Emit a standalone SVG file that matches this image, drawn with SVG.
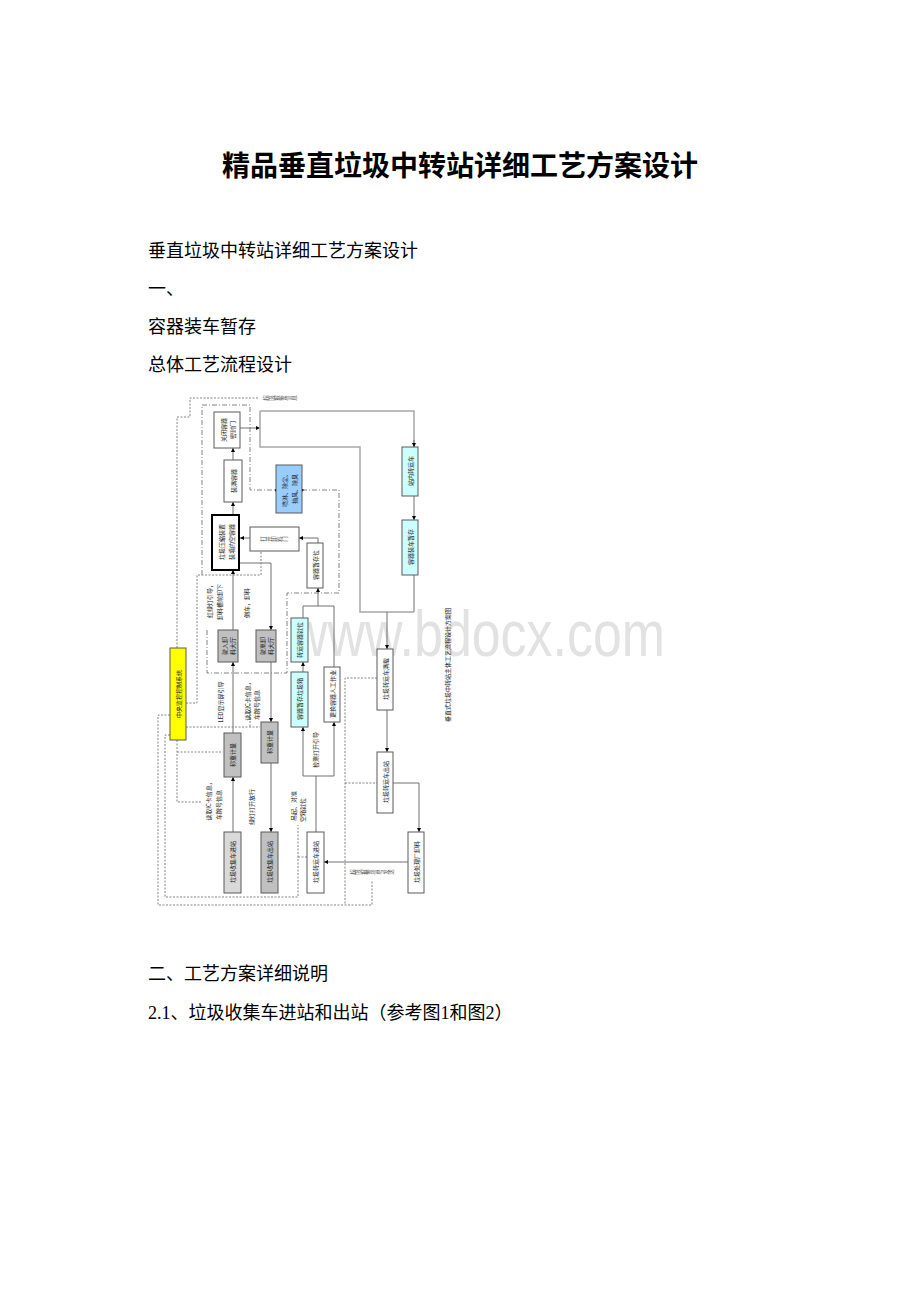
<svg xmlns="http://www.w3.org/2000/svg" width="920" height="1302" viewBox="0 0 920 1302">
<style>
.doc{font-family:"Liberation Serif","Noto Sans CJK SC",serif;fill:#000}
.t{font-family:"Noto Sans CJK SC",sans-serif;font-size:6px;fill:#222;text-anchor:middle;dominant-baseline:central}
.v{font-family:"Noto Sans CJK SC",sans-serif;font-size:5.5px;fill:#555;text-anchor:middle;dominant-baseline:central;writing-mode:vertical-rl}
.bx{stroke:#5a5a5a;stroke-width:1}
.w{fill:#fff}.g1{fill:#c0c0c0}.g2{fill:#d9d9d9}.cy{fill:#ccffff}.bl{fill:#99ccff}.ye{fill:#ffff00}
.ln{fill:none;stroke:#707070;stroke-width:1}
.big{fill:none;stroke:#a8a8a8;stroke-width:1.5}
.dt{fill:none;stroke:#777;stroke-width:0.9;stroke-dasharray:2 1.5}
.dd{fill:none;stroke:#777;stroke-width:0.9;stroke-dasharray:5 2 1 2}
</style>
<defs>
<marker id="a" viewBox="0 0 6 6" refX="6" refY="3" markerWidth="4" markerHeight="4" orient="auto" markerUnits="userSpaceOnUse"><path d="M0,0L6,3L0,6z" fill="#000"/></marker>
<marker id="d" viewBox="0 0 4 4" refX="2" refY="2" markerWidth="3" markerHeight="3" markerUnits="userSpaceOnUse"><circle cx="2" cy="2" r="2" fill="#000"/></marker>
</defs>
<rect width="920" height="1302" fill="#fff"/>
<text x="460" y="176" class="doc" font-size="28" font-weight="bold" text-anchor="middle">精品垂直垃圾中转站详细工艺方案设计</text>
<text x="148" y="257" class="doc" font-size="18">垂直垃圾中转站详细工艺方案设计</text>
<text x="148" y="295" class="doc" font-size="18">一、</text>
<text x="148" y="333" class="doc" font-size="18">容器装车暂存</text>
<text x="148" y="371" class="doc" font-size="18">总体工艺流程设计</text>
<text x="148" y="980" class="doc" font-size="18">二、工艺方案详细说明</text>
<text x="148" y="1019" class="doc" font-size="18">2.1、垃圾收集车进站和出站（参考图1和图2）</text>
<text x="290" y="656" font-family="Liberation Sans,sans-serif" font-size="64" fill="#e2e2e2" textLength="375" lengthAdjust="spacingAndGlyphs">www.bdocx.com</text>
<g id="connectors">
<path class="ln" d="M233,832V777" marker-end="url(#a)"/>
<path class="ln" d="M233,733V662" marker-end="url(#a)"/>
<path class="ln" d="M233,630V570" marker-end="url(#a)"/>
<path class="ln" d="M233,515V502" marker-end="url(#a)"/>
<path class="ln" d="M233,460V448" marker-end="url(#a)"/>
<path class="ln" d="M240,428H260" marker-end="url(#a)"/>
<path class="big" d="M260,411H414V447"/>
<path class="ln" d="M414,440V447" marker-end="url(#a)"/>
<path class="big" d="M260,411V447H360V612H414"/>
<path class="ln" d="M414,496V520" marker-end="url(#a)"/>
<path class="ln" d="M414,575V612"/>
<path class="ln" d="M387,612V649" marker-end="url(#a)"/>
<path class="ln" d="M387,710V752" marker-end="url(#a)"/>
<path class="ln" d="M393,783H419V832" marker-end="url(#a)"/>
<path class="ln" d="M408,862H324" marker-end="url(#a)"/>
<path class="ln" d="M316,832V776H303V727" marker-end="url(#a)"/>
<path class="ln" d="M316,776H334V722" marker-end="url(#a)"/>
<path class="ln" d="M303,672V662" marker-end="url(#a)"/>
<path class="ln" d="M303,618V606H334V667"/>
<path class="ln" d="M318,606V588" marker-end="url(#a)"/>
<path class="ln" d="M318,543V538H299" marker-end="url(#a)"/>
<path class="ln" d="M250,538H240" marker-end="url(#a)"/>
<path class="ln" d="M239,563H271V630" marker-end="url(#a)"/>
<path class="ln" d="M271,662V722" marker-end="url(#a)"/>
<path class="ln" d="M271,763V832" marker-end="url(#a)"/>
<path class="dt" d="M258,398H190V417H177V648"/>
<path class="dt" d="M177,740V802H202"/>
<path class="dt" d="M177,752H223"/>
<path class="dt" d="M186,703H197V575H261V551"/>
<path class="dt" d="M186,727H260M250,700V727"/>
<path class="dt" d="M170,715H158V905H372V880"/>
<path class="dt" d="M170,735H165V897H298V825M298,857H307"/>
<path class="dt" d="M377,678H345V905M345,783H377"/>
<path class="dd" d="M202,575V405H250V490H276" marker-end="url(#d)"/>
<path class="dd" d="M302,490H339V593H287V673H207V628" marker-start="url(#d)"/>
</g>
<g id="n-close"><rect class="bx w" x="214" y="412" width="26" height="36"/><text class="t" transform="translate(223,430) rotate(-90)">关闭容器</text><text class="t" transform="translate(232,430) rotate(-90)">密封门</text></g>
<g id="n-full"><rect class="bx w" x="224" y="460" width="18" height="42"/><text class="t" transform="translate(233,481) rotate(-90)">装满容器</text></g>
<g id="n-press"><rect x="212" y="515" width="27" height="55" fill="#fff" stroke="#000" stroke-width="2"/><text class="t" transform="translate(221,542) rotate(-90)">垃圾压缩装置</text><text class="t" transform="translate(231,542) rotate(-90)">装填的空容器</text></g>
<g id="n-open"><rect class="bx w" x="250" y="527" width="49" height="24"/><text class="v" transform="translate(274,539) rotate(-90)">打开卸料门</text></g>
<g id="n-blue"><rect class="bx bl" x="276" y="465" width="26" height="48"/><text class="t" transform="translate(284,489) rotate(-90)">喷淋、除尘、</text><text class="t" transform="translate(294,489) rotate(-90)">抽风、除臭</text></g>
<g id="n-store"><rect class="bx w" x="307" y="543" width="16" height="45"/><text class="t" transform="translate(315,565) rotate(-90)">容器暂存位</text></g>
<g id="n-cy1"><rect class="bx cy" x="291" y="618" width="17" height="44"/><text class="t" transform="translate(299.5,640) rotate(-90)">转运容器就位</text></g>
<g id="n-cy2"><rect class="bx cy" x="291" y="672" width="17" height="55"/><text class="t" transform="translate(299.5,699) rotate(-90)">容器暂存垃圾箱</text></g>
<g id="n-manual"><rect class="bx w" x="324" y="667" width="16" height="55"/><text class="t" transform="translate(332,694) rotate(-90)">更换容器人工作业</text></g>
<g id="n-tin"><rect class="bx w" x="307" y="832" width="17" height="61"/><text class="t" transform="translate(315.5,862) rotate(-90)">垃圾转运车进站</text></g>
<g id="n-plant"><rect class="bx w" x="408" y="832" width="16" height="61"/><text class="t" transform="translate(416,862) rotate(-90)">垃圾处理厂卸料</text></g>
<g id="n-tfull"><rect class="bx w" x="377" y="649" width="16" height="61"/><text class="t" transform="translate(385,679) rotate(-90)">垃圾转运车满载</text></g>
<g id="n-tout"><rect class="bx w" x="377" y="752" width="16" height="61"/><text class="t" transform="translate(385,782) rotate(-90)">垃圾转运车出站</text></g>
<g id="n-cy3"><rect class="bx cy" x="402" y="447" width="16" height="49"/><text class="t" transform="translate(410,471) rotate(-90)">站内转运车</text></g>
<g id="n-cy4"><rect class="bx cy" x="402" y="520" width="16" height="55"/><text class="t" transform="translate(410,547) rotate(-90)">容器装车暂存</text></g>
<g id="n-ctrl"><rect class="bx ye" x="170" y="648" width="16" height="92"/><text class="t" font-size="7" transform="translate(178,694) rotate(-90)">中央监控控制系统</text></g>
<g id="n-hallin"><rect class="bx g1" x="218" y="630" width="20" height="32"/><text class="t" transform="translate(224,646) rotate(-90)">驶入卸</text><text class="t" transform="translate(232,646) rotate(-90)">料大厅</text></g>
<g id="n-hallout"><rect class="bx g1" x="256" y="630" width="20" height="32"/><text class="t" transform="translate(262,646) rotate(-90)">驶离卸</text><text class="t" transform="translate(270,646) rotate(-90)">料大厅</text></g>
<g id="n-wgin"><rect class="bx g1" x="224" y="733" width="17" height="44"/><text class="t" transform="translate(232.5,755) rotate(-90)">称重计量</text></g>
<g id="n-wgout"><rect class="bx g1" x="261" y="722" width="17" height="41"/><text class="t" transform="translate(269.5,742) rotate(-90)">称重计量</text></g>
<g id="n-cin"><rect class="bx g2" x="224" y="832" width="17" height="61"/><text class="t" transform="translate(232.5,862) rotate(-90)">垃圾收集车进站</text></g>
<g id="n-cout"><rect class="bx g1" x="261" y="832" width="17" height="61"/><text class="t" transform="translate(269.5,862) rotate(-90)">垃圾收集车出站</text></g>
<g id="labels">
<text class="t" transform="translate(208,800) rotate(-90)">读取IC卡信息，</text>
<text class="t" transform="translate(218,805) rotate(-90)">车牌号信息</text>
<text class="t" transform="translate(251,807) rotate(-90)">绿灯打开放行</text>
<text class="t" transform="translate(220,702) rotate(-90)">LED显示屏引导</text>
<text class="t" transform="translate(247,700) rotate(-90)">读取IC卡信息，</text>
<text class="t" transform="translate(256,705) rotate(-90)">车牌号信息</text>
<text class="t" transform="translate(209,600) rotate(-90)">红绿灯引导，</text>
<text class="t" transform="translate(219,602) rotate(-90)">卸料槽前卸下</text>
<text class="t" transform="translate(246,603) rotate(-90)">倒车，卸料</text>
<text class="t" transform="translate(293,806) rotate(-90)">吊起、对准</text>
<text class="t" transform="translate(302,810) rotate(-90)">空箱就位</text>
<text class="t" transform="translate(315,750) rotate(-90)">检测打开引导</text>
<text class="v" transform="translate(280,398) rotate(-90)">超限报警信息</text>
<text class="v" transform="translate(372,872) rotate(-90)">超限报警信号发送</text>
<text class="t" font-size="7" transform="translate(447,665) rotate(-90)">垂直式垃圾中转站主体工艺流程设计方案图</text>
</g>
</svg>
